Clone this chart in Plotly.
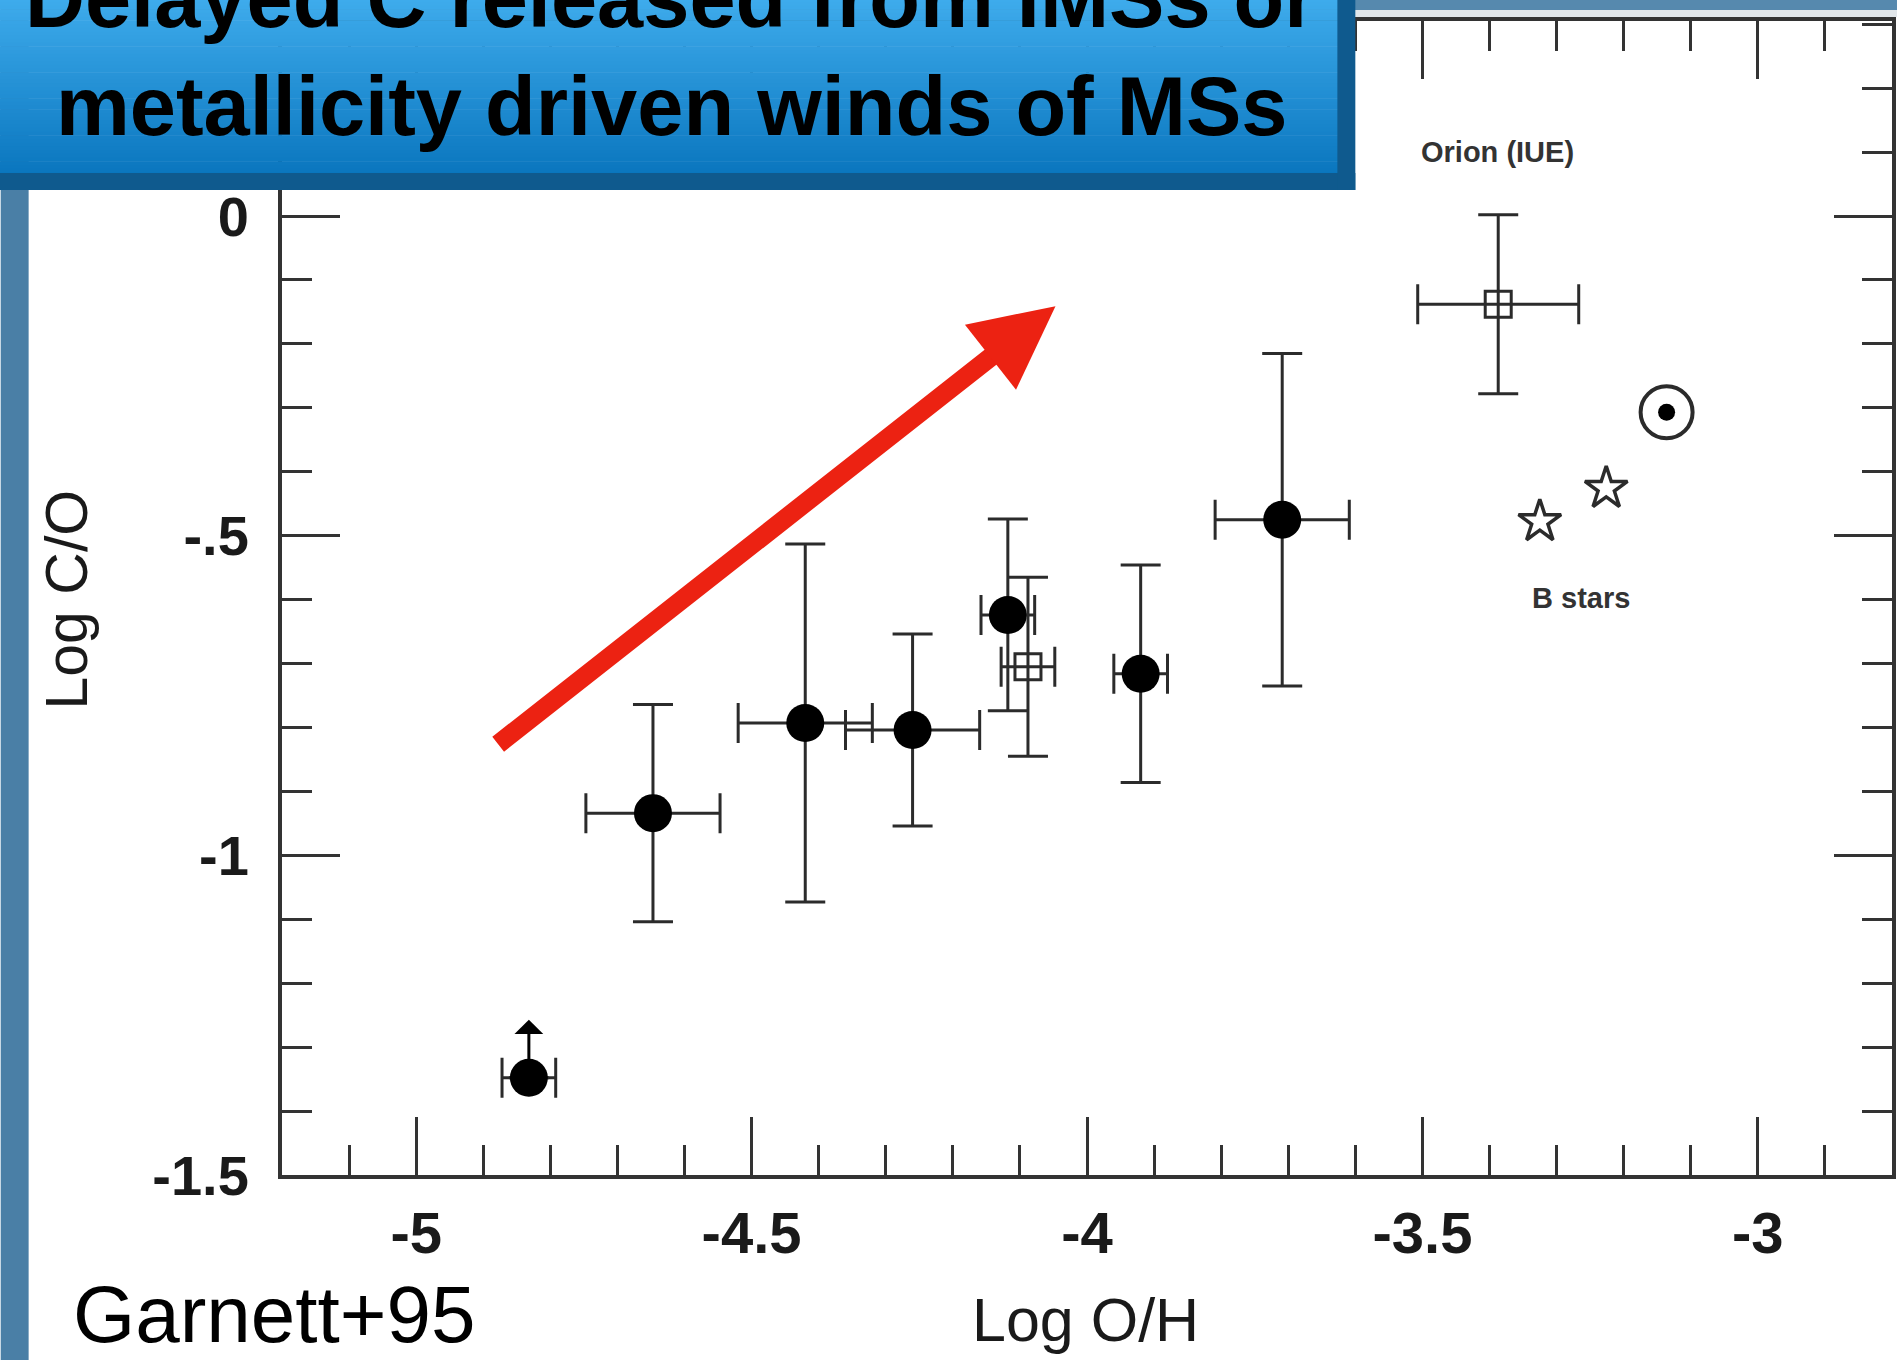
import plotly.graph_objects as go

# ---------------------------------------------------------------------------
# Data: log(C/O) versus log(O/H)
# ---------------------------------------------------------------------------
# H II regions (filled circles)
hii_logoh = [-4.832, -4.647, -4.420, -4.260, -4.118, -3.920, -3.709]
hii_logco = [-1.348, -0.934, -0.793, -0.804, -0.624, -0.716, -0.475]
hii_xerr = [0.04, 0.10, 0.10, 0.10, 0.04, 0.04, 0.10]
hii_yerr = [0.0, 0.17, 0.28, 0.15, 0.15, 0.17, 0.26]

# lower limit on the most metal-poor object
limit_logoh = -4.832
limit_from = -1.348
limit_to = -1.257

# open squares: alternative measurement and Orion (IUE)
sq_logoh = [-4.088, -3.387]
sq_logco = [-0.705, -0.138]
sq_xerr = [0.04, 0.12]
sq_yerr = [0.14, 0.14]

# B stars
bstar_logoh = [-3.325, -3.226]
bstar_logco = [-0.478, -0.426]

# Sun
sun_logoh = [-3.136]
sun_logco = [-0.307]

# axes
x_range = [-5.2, -2.8]
y_range = [-1.5, 0.305]
x_ticks = [-5, -4.5, -4, -3.5, -3]
x_ticktext = ["-5", "-4.5", "-4", "-3.5", "-3"]
y_ticks = [0, -0.5, -1, -1.5]
y_ticktext = ["0", "-.5", "-1", "-1.5"]

# trend arrow (tail -> head), in data units
trend_tail = (-4.880, -0.828)
trend_head = (-4.047, -0.141)

# ---------------------------------------------------------------------------
W, H = 1901, 1360
ML, MR, MT, MB = 282, 5, 21, 185
PW, PH = W - ML - MR, H - MT - MB


def px(x):
    return (x - ML) / PW


def py(y):
    return (H - MB - y) / PH


INK = "#2b2b2b"
SANS = "Liberation Sans, Arial, Helvetica, sans-serif"

fig = go.Figure()

# error bars + filled circles
fig.add_trace(go.Scatter(
    x=hii_logoh, y=hii_logco, mode="markers",
    marker=dict(symbol="circle", size=38, color="black"),
    error_x=dict(type="data", array=hii_xerr, thickness=3, width=20, color=INK),
    error_y=dict(type="data", array=hii_yerr, thickness=3, width=20, color=INK),
    showlegend=False, hoverinfo="skip",
))

# open squares
fig.add_trace(go.Scatter(
    x=sq_logoh, y=sq_logco, mode="markers",
    marker=dict(symbol="square-open", size=26, color=INK, line=dict(width=3, color=INK)),
    error_x=dict(type="data", array=sq_xerr, thickness=3, width=20, color=INK),
    error_y=dict(type="data", array=sq_yerr, thickness=3, width=20, color=INK),
    showlegend=False, hoverinfo="skip",
))

# B stars
fig.add_trace(go.Scatter(
    x=bstar_logoh, y=bstar_logco, mode="markers",
    marker=dict(symbol="star-open", size=32, color=INK, line=dict(width=3.5, color=INK)),
    showlegend=False, hoverinfo="skip",
))

# Sun symbol
fig.add_trace(go.Scatter(
    x=sun_logoh, y=sun_logco, mode="markers",
    marker=dict(symbol="circle-open", size=52, color=INK, line=dict(width=4, color=INK)),
    showlegend=False, hoverinfo="skip",
))
fig.add_trace(go.Scatter(
    x=sun_logoh, y=sun_logco, mode="markers",
    marker=dict(symbol="circle", size=17, color="black"),
    showlegend=False, hoverinfo="skip",
))

# ---------------------------------------------------------------------------
# decorative frame: side strip, top band and title banner
shapes = []
shapes.append(dict(type="rect", xref="paper", yref="paper",
                   x0=px(0), x1=px(28), y0=py(H), y1=py(0),
                   fillcolor="#4a7fa6", line=dict(width=0), layer="above"))
shapes.append(dict(type="rect", xref="paper", yref="paper",
                   x0=px(0), x1=px(W), y0=py(10), y1=py(0),
                   fillcolor="#5689ae", line=dict(width=0), layer="above"))
shapes.append(dict(type="rect", xref="paper", yref="paper",
                   x0=px(0), x1=px(W), y0=py(17), y1=py(10),
                   fillcolor="rgba(120,140,160,0.22)", line=dict(width=0), layer="above"))

# banner gradient
n_strips = 48
top_c = (62, 171, 236)
bot_c = (10, 118, 190)
y_top, y_bot = -2, 176
for i in range(n_strips):
    t = i / (n_strips - 1)
    c = tuple(round(a + (b - a) * t) for a, b in zip(top_c, bot_c))
    ya = y_top + (y_bot - y_top) * i / n_strips
    yb = y_top + (y_bot - y_top) * (i + 1) / n_strips + 0.6
    shapes.append(dict(type="rect", xref="paper", yref="paper",
                       x0=px(-2), x1=px(1342), y0=py(yb), y1=py(ya),
                       fillcolor="rgb(%d,%d,%d)" % c, line=dict(width=0), layer="above"))
# banner rough border
shapes.append(dict(type="rect", xref="paper", yref="paper",
                   x0=px(-2), x1=px(1358), y0=py(190), y1=py(173),
                   fillcolor="#0f5a8e", line=dict(width=0), layer="above"))
shapes.append(dict(type="rect", xref="paper", yref="paper",
                   x0=px(1340), x1=px(1358), y0=py(190), y1=py(-2),
                   fillcolor="#0f5a8e", line=dict(width=0), layer="above"))

annotations = []
# banner text
annotations.append(dict(xref="paper", yref="paper", x=px(672), y=py(-1),
                        text="Delayed C released from IMSs or", showarrow=False,
                        xanchor="center", yanchor="middle",
                        font=dict(family=SANS, size=83, color="black", weight="bold")))
annotations.append(dict(xref="paper", yref="paper", x=px(672), y=py(106),
                        text="metallicity driven winds of MSs", showarrow=False,
                        xanchor="center", yanchor="middle",
                        font=dict(family=SANS, size=83, color="black", weight="bold")))
# reference tag
annotations.append(dict(xref="paper", yref="paper", x=px(70), y=py(1314),
                        text="Garnett+95", showarrow=False,
                        xanchor="left", yanchor="middle",
                        font=dict(family=SANS, size=80, color="black")))
# axis titles
annotations.append(dict(xref="paper", yref="paper", x=px(1087), y=py(1320),
                        text="Log O/H", showarrow=False,
                        xanchor="center", yanchor="middle",
                        font=dict(family=SANS, size=61, color="#1a1a1a")))
annotations.append(dict(xref="paper", yref="paper", x=px(66), y=py(600),
                        text="Log C/O", showarrow=False, textangle=-90,
                        xanchor="center", yanchor="middle",
                        font=dict(family=SANS, size=59, color="#1a1a1a")))
# point labels
annotations.append(dict(x=-3.388, y=0.10, text="Orion (IUE)", showarrow=False,
                        font=dict(family=SANS, size=29, color="#333333", weight="bold")))
annotations.append(dict(x=-3.263, y=-0.598, text="B stars", showarrow=False,
                        font=dict(family=SANS, size=29, color="#333333", weight="bold")))
# lower-limit arrow
annotations.append(dict(x=limit_logoh, y=limit_to, ax=limit_logoh, ay=limit_from,
                        xref="x", yref="y", axref="x", ayref="y", text="",
                        showarrow=True, arrowhead=1, arrowsize=1.6, arrowwidth=3,
                        arrowcolor="black"))
# red trend arrow
annotations.append(dict(x=trend_head[0], y=trend_head[1], ax=trend_tail[0], ay=trend_tail[1],
                        xref="x", yref="y", axref="x", ayref="y", text="",
                        showarrow=True, arrowhead=2, arrowsize=0.87, arrowwidth=19,
                        arrowcolor="#ec2212"))

axis_common = dict(
    showgrid=False, zeroline=False,
    showline=True, linewidth=4, linecolor="#333333", mirror="ticks",
    ticks="inside", ticklen=58, tickwidth=3, tickcolor="#333333",
)

fig.update_layout(
    width=W, height=H,
    margin=dict(l=ML, r=MR, t=MT, b=MB, pad=0),
    paper_bgcolor="white", plot_bgcolor="white",
    showlegend=False,
    xaxis=dict(range=x_range, tickvals=x_ticks, ticktext=x_ticktext,
               tickfont=dict(family=SANS, size=58, color="#1a1a1a", weight="bold"),
               ticklabelstandoff=4,
               minor=dict(tick0=-5, dtick=0.1, ticks="inside", ticklen=30,
                          tickwidth=3, tickcolor="#333333"),
               **axis_common),
    yaxis=dict(range=y_range, tickvals=y_ticks, ticktext=y_ticktext,
               tickfont=dict(family=SANS, size=56, color="#1a1a1a", weight="bold"),
               ticklabelstandoff=18,
               minor=dict(tick0=0, dtick=0.1, ticks="inside", ticklen=30,
                          tickwidth=3, tickcolor="#333333"),
               **axis_common),
    shapes=shapes,
    annotations=annotations,
)

fig.write_html("out.html")
